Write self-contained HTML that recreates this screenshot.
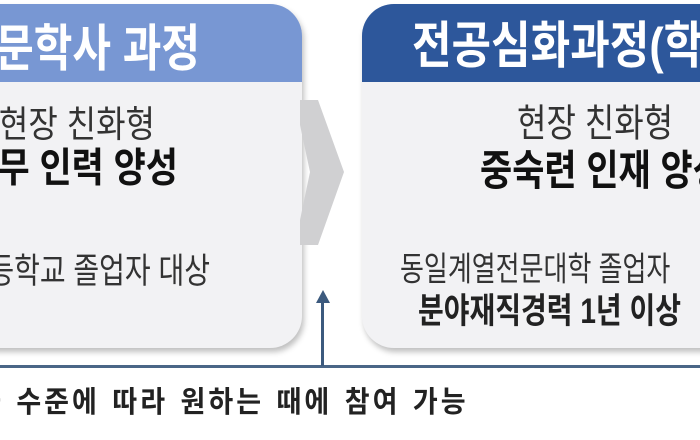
<!DOCTYPE html>
<html><head><meta charset="utf-8"><style>
html,body{margin:0;padding:0}
body{width:700px;height:440px;overflow:hidden;background:#fff;position:relative;font-family:"Liberation Sans","Noto Sans CJK KR",sans-serif}
#w{position:absolute;left:0;top:0;width:700px;height:440px;overflow:hidden}
.box{position:absolute;background:#f2f2f4;box-shadow:2px 4px 6px rgba(0,0,0,0.25);overflow:hidden}
.hd{position:absolute;left:0;right:0;top:0;height:78px}
.t{position:absolute;white-space:nowrap;color:#222;line-height:1}
.r{text-align:right}
</style></head><body><div id="w">
<div class="box" style="left:-40px;top:4px;width:342px;height:344px;border-radius:0 32px 32px 0;">
 <div class="hd" style="background:#7897d3;"></div>
</div>
<div class="t r" style="right:500px;top:24px;font-size:42px;font-weight:bold;color:#fff;transform:scaleY(1.2);transform-origin:right top">전문학사 과정</div>
<div class="t r" style="right:545px;top:106px;font-size:32px;color:#333;transform:scaleY(1.15);transform-origin:right top">현장 친화형</div>
<div class="t r" style="right:522px;top:148px;font-size:35px;font-weight:bold;color:#111;transform:scaleY(1.15);transform-origin:right top">실무 인력 양성</div>
<div class="t r" style="right:490px;top:254px;font-size:28px;color:#333;transform:scaleY(1.25);transform-origin:right top">고등학교 졸업자 대상</div>
<svg style="position:absolute;left:300px;top:100px" width="50" height="150"><polygon points="0,0 18,0 44,72 18,145 0,145 0,120 10,72 0,25" fill="#d0d0d2"/></svg>
<div class="box" style="left:362px;top:4px;width:380px;height:344px;border-radius:32px 0 0 32px;">
 <div class="hd" style="background:#2d579b;"></div>
</div>
<div class="t" style="left:412px;top:22px;font-size:43px;font-weight:bold;color:#fff;transform:scaleY(1.17);transform-origin:left top">전공심화과정(학사)</div>
<div class="t" style="left:517px;top:104px;font-size:32px;color:#333;transform:scaleY(1.2);transform-origin:left top">현장 친화형</div>
<div class="t" style="left:480px;top:150px;font-size:35px;font-weight:bold;color:#111;transform:scaleY(1.2);transform-origin:left top">중숙련 인재 양성</div>
<div class="t" style="left:400px;top:252px;font-size:26px;color:#333;transform:scaleY(1.3);transform-origin:left top">동일계열전문대학 졸업자</div>
<div class="t" style="left:418px;top:294px;font-size:28px;font-weight:bold;color:#222;transform:scaleY(1.25);transform-origin:left top">분야재직경력 1년 이상</div>
<div style="position:absolute;left:0;top:365px;width:700px;height:3px;background:#4a6687"></div>
<div style="position:absolute;left:321px;top:298px;width:3px;height:68px;background:#3c5a7e"></div>
<svg style="position:absolute;left:315px;top:290px" width="16" height="14"><polygon points="8,0 15,13 1,13" fill="#3c5a7e"/></svg>
<div class="t" style="left:-24px;top:388px;font-size:27px;font-weight:bold;color:#222;letter-spacing:3px;word-spacing:2px;transform:scaleY(1.1);transform-origin:left top">과 수준에 따라 원하는 때에 참여 가능</div>
</div></body></html>
